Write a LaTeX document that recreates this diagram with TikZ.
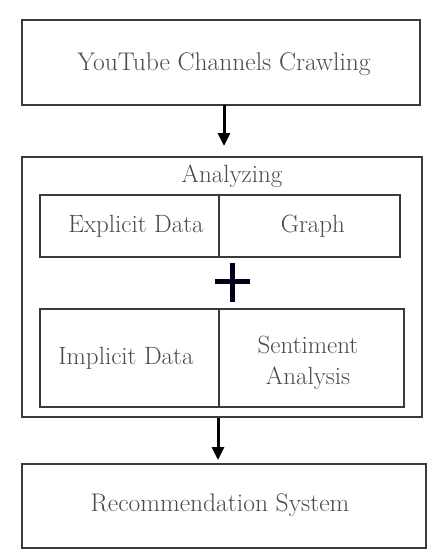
\documentclass[tikz,border=0pt]{standalone}
\usetikzlibrary{arrows.meta}
\definecolor{boxline}{HTML}{3A3A3A}
\definecolor{txt}{HTML}{4A4A4A}
\begin{document}
\begin{tikzpicture}[x=1pt,y=-1pt,
  box/.style={draw=boxline,line width=1.4pt,rectangle,inner sep=0pt,text=txt,align=center},
  lab/.style={text=txt,align=center,inner sep=0pt},
  bigtxt/.style={font=\fontsize{25.5}{30}\selectfont},
  midtxt/.style={font=\fontsize{25}{31}\selectfont},
  flow/.style={line width=3pt,-{Triangle[length=13pt,width=12pt]}}]
\useasboundingbox (0,0) rectangle (440,551);
\node[box,bigtxt,minimum width=398pt,minimum height=85pt] (crawl) at (221,62.5) {};
\node[lab,bigtxt] (crawllab) at (224,64) {YouTube Channels Crawling};
\node[box,minimum width=400pt,minimum height=260pt] (ana) at (222,287) {};
\node[lab,midtxt] (analab) at (232,176) {Analyzing};
\node[box,minimum width=179pt,minimum height=62pt] (expl) at (129.5,226) {};
\node[lab,midtxt] (expllab) at (136,226) {Explicit Data};
\node[box,minimum width=181pt,minimum height=62pt] (graph) at (309.5,226) {};
\node[lab,midtxt] (graphlab) at (313,226) {Graph};
\node[box,minimum width=179pt,minimum height=98pt] (impl) at (129.5,358) {};
\node[lab,midtxt] (impllab) at (126,358) {Implicit Data};
\node[box,minimum width=185pt,minimum height=98pt] (sent) at (311.5,358) {};
\node[lab,midtxt] (sentlab) at (308,363) {Sentiment\\Analysis};
\node[box,minimum width=404pt,minimum height=84pt] (rec) at (224,506) {};
\node[lab,bigtxt] (reclab) at (220,505) {Recommendation System};
\draw[line width=5pt,color=black!90!blue] (215,281) -- (250,281) (232,263) -- (232,302);
\coordinate (a1s) at (224,105);
\coordinate (a1e) at (224,146);
\coordinate (a2s) at (218,418);
\coordinate (a2e) at (218,460);
\draw[flow] (a1s) -- (a1e);
\draw[flow] (a2s) -- (a2e);
\end{tikzpicture}
\end{document}
